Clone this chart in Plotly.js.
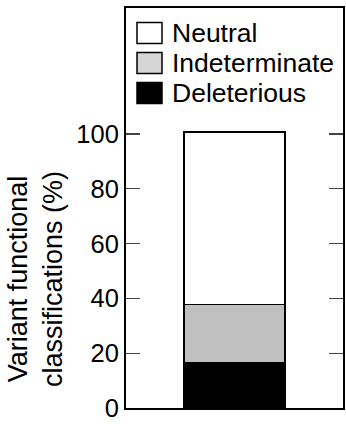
<!DOCTYPE html>
<html>
<head>
<meta charset="utf-8">
<script src="https://cdn.plot.ly/plotly-3.0.1.min.js"></script>
<style>html,body{margin:0;padding:0;background:#fff;}#chart{width:346px;height:424px;}</style>
</head>
<body>
<div id="chart"></div>
<script>
// ---- data ----
const categories = ['All variants'];
const seriesNames = ['Deleterious', 'Indeterminate', 'Neutral'];
const deleterious = [16.5];
const indeterminate = [21.3];
const neutral = [63.0];
const yTickVals = [0, 20, 40, 60, 80, 100];
const yTickText = ['0', '20', '40', '60', '80', '100'];
const legendOrder = ['Neutral', 'Indeterminate', 'Deleterious'];
const yTitle = 'Variant functional<br>classifications (%)';

// ---- styles ----
const barColors = {Deleterious: '#000000', Indeterminate: '#c0c0c0', Neutral: '#ffffff'};
const swatchColors = {Deleterious: '#000000', Indeterminate: '#d6d6d6', Neutral: '#ffffff'};
const FONT = 'Liberation Sans, Arial, Helvetica, sans-serif';
const W = 346, H = 424;
const M = {l: 126, r: 3, t: 8, b: 16, pad: 0};
const PW = W - M.l - M.r, PH = H - M.t - M.b;
const px2x = p => (p - M.l) / PW;
const px2y = p => (H - M.b - p) / PH;

const seriesVals = {Deleterious: deleterious, Indeterminate: indeterminate, Neutral: neutral};
const traces = seriesNames.map(n => ({
  type: 'bar', name: n, x: categories, y: seriesVals[n],
  width: 0.465,
  marker: {color: barColors[n], line: {color: '#000', width: 1.5}},
  showlegend: false, hoverinfo: 'skip'
}));

// manual legend (larger swatches than Plotly's fixed-size legend symbols)
const shapes = [], annotations = [];
const legendCenters = [33, 63, 93];
legendOrder.forEach((n, i) => {
  const c = legendCenters[i];
  shapes.push({type: 'rect', xref: 'paper', yref: 'paper',
    x0: px2x(137), x1: px2x(162), y0: px2y(c + 10.5), y1: px2y(c - 10.5),
    fillcolor: swatchColors[n], line: {color: '#000', width: 1.5}});
  annotations.push({xref: 'paper', yref: 'paper', x: px2x(169.5), y: px2y(c),
    xanchor: 'left', yanchor: 'middle', text: n, showarrow: false,
    font: {family: FONT, size: 26.5, color: '#000'}});
});
annotations.push({xref: 'paper', yref: 'paper', x: px2x(35), y: px2y(279),
  xanchor: 'center', yanchor: 'middle', textangle: -90, text: yTitle, showarrow: false,
  font: {family: FONT, size: 27, color: '#000'}});

const layout = {
  width: W, height: H, margin: M,
  paper_bgcolor: '#fff', plot_bgcolor: '#fff',
  barmode: 'stack', showlegend: false,
  font: {family: FONT, size: 25, color: '#000'},
  xaxis: {type: 'category', range: [-0.5, 0.5], showticklabels: false, ticks: '',
    showgrid: false, zeroline: false, showline: true, mirror: true, linecolor: '#000', linewidth: 2,
    fixedrange: true},
  yaxis: {range: [0, 146], tickvals: yTickVals, ticktext: yTickText, ticks: 'inside',
    ticklen: 14, tickwidth: 1.3, tickcolor: '#444', showgrid: false, zeroline: false,
    showline: true, mirror: 'ticks', linecolor: '#000', linewidth: 2,
    tickfont: {family: FONT, size: 25.5, color: '#000'}, fixedrange: true},
  shapes: shapes, annotations: annotations
};
Plotly.newPlot('chart', traces, layout, {staticPlot: true, displayModeBar: false});
</script>
</body>
</html>
